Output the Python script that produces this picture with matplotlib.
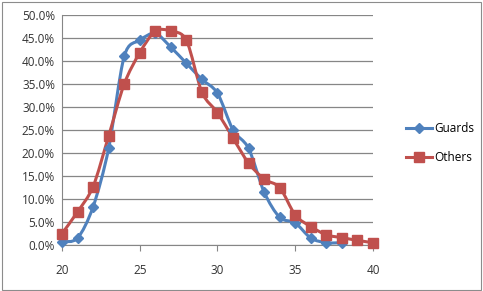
import numpy as np
import matplotlib
matplotlib.use("Agg")
import matplotlib.pyplot as plt
from matplotlib.path import Path
from matplotlib.patches import PathPatch, Rectangle
from matplotlib.lines import Line2D

plt.rcParams['font.family'] = ['Open Sans', 'DejaVu Sans']

guards_x = [20, 21, 22, 23, 24, 25, 26, 27, 28, 29, 30, 31, 32, 33, 34, 35, 36, 37, 38]
guards_y = [0.7, 1.5, 8.3, 21.0, 41.0, 44.5, 46.0, 43.0, 39.5, 36.0, 33.0, 25.0, 21.0,
            11.5, 6.0, 4.8, 1.5, 0.5, 0.5]
others_x = list(range(20, 41))
others_y = [2.5, 7.2, 12.7, 23.7, 35.0, 41.8, 46.5, 46.5, 44.5, 33.2, 28.8, 23.2, 17.8,
            14.3, 12.5, 6.5, 4.0, 2.2, 1.6, 1.0, 0.5]

blue = '#4F81BD'
red = '#C0504D'


def smooth_path(xs, ys, t=0.15):
    # Catmull-Rom style bezier, similar to excel "smoothed line"
    xs = np.asarray(xs, float)
    ys = np.asarray(ys, float)
    verts = [(xs[0], ys[0])]
    codes = [Path.MOVETO]
    n = len(xs)
    for i in range(n - 1):
        p0 = i - 1 if i > 0 else i
        p3 = i + 2 if i + 2 < n else i + 1
        c1 = (xs[i] + (xs[i + 1] - xs[p0]) * t, ys[i] + (ys[i + 1] - ys[p0]) * t)
        c2 = (xs[i + 1] - (xs[p3] - xs[i]) * t, ys[i + 1] - (ys[p3] - ys[i]) * t)
        verts += [c1, c2, (xs[i + 1], ys[i + 1])]
        codes += [Path.CURVE4] * 3
    return Path(verts, codes)


fig = plt.figure(figsize=(4.83, 2.91), dpi=100)
fig.patches.append(Rectangle((0.004, 0.004), 0.992, 0.99, transform=fig.transFigure,
                             fill=False, edgecolor='#8c8c8c', linewidth=0.8))
ax = fig.add_axes([62 / 483, 1 - 245 / 291, (373 - 62) / 483, (245 - 15) / 291])

for xs, ys, c, m, ms in [(guards_x, guards_y, blue, 'D', 5.5),
                         (others_x, others_y, red, 's', 7.5)]:
    ax.add_patch(PathPatch(smooth_path(xs, ys), fill=False, edgecolor=c,
                           linewidth=2.2, zorder=3, capstyle='round'))
    ax.plot(xs, ys, linestyle='none', marker=m, markersize=ms, color=c,
            markeredgecolor=c, zorder=4, clip_on=False)

ax.set_xlim(20, 40)
ax.set_ylim(0, 50)
ax.set_xticks([20, 25, 30, 35, 40])
ax.set_yticks(np.arange(0, 51, 5))
ax.set_yticklabels([f'{v:.1f}%' for v in np.arange(0, 51, 5)])
ax.yaxis.grid(True, color='#868686', linewidth=0.9)
ax.set_axisbelow(True)
for s in ['top', 'right']:
    ax.spines[s].set_visible(False)
ax.spines['left'].set_color('#868686')
ax.spines['bottom'].set_color('#868686')
ax.tick_params(axis='y', length=0, labelsize=8.5, pad=5, colors='#333333')
ax.tick_params(axis='x', length=4, direction='out', labelsize=8.5, pad=10,
               colors='#333333', color='#868686')
ax.set_xticklabels(['20', '25', '30', '35', '40'], color='#333333')

handles = [Line2D([], [], color=blue, marker='D', markersize=5, linewidth=2.2),
           Line2D([], [], color=red, marker='s', markersize=7, linewidth=2.2)]
fig.legend(handles, ['Guards', 'Others'], loc='center left',
           bbox_to_anchor=(395 / 483, 1 - 143 / 291), frameon=False,
           fontsize=8.5, handlelength=2.2, handletextpad=0.2, labelspacing=1.3)

fig.savefig('out.png', dpi=100)
